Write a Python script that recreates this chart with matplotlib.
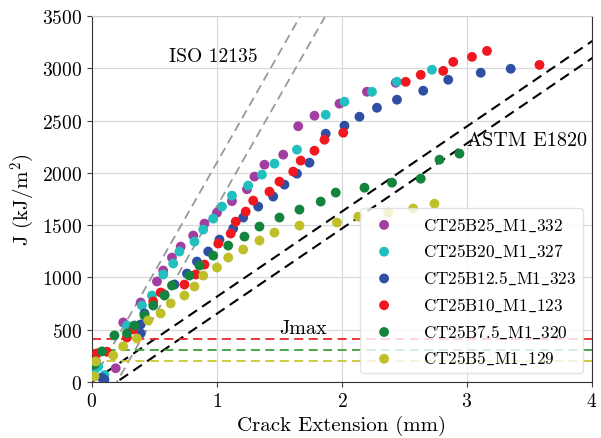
# J-R curves for CT25 specimens with ISO/ASTM construction lines
import numpy as np
import matplotlib
matplotlib.use("Agg")
import matplotlib.pyplot as plt

plt.rcParams["font.family"] = "serif"
plt.rcParams["font.serif"] = ["cmr10"]
plt.rcParams["mathtext.fontset"] = "cm"
plt.rcParams["axes.formatter.use_mathtext"] = True

# ---- DATA (crack extension in mm, J in kJ/m^2) ----
labels = [r"CT25B25$\_$M1$\_$332", r"CT25B20$\_$M1$\_$327", r"CT25B12.5$\_$M1$\_$323",
          r"CT25B10$\_$M1$\_$123", r"CT25B7.5$\_$M1$\_$320", r"CT25B5$\_$M1$\_$129"]
colors = ["#a33ea1", "#22bfbf", "#2f4fa3", "#f0181e", "#13843c", "#bfbf2a"]

da_b25 = [0.01, 0.03, 0.19, 0.25, 0.39, 0.52, 0.57, 0.64, 0.71, 0.81, 0.90, 1.00,
          1.12, 1.24, 1.30, 1.38, 1.53, 1.65, 1.78, 1.98, 2.20, 2.43]
j_b25 = [50, 200, 130, 568, 759, 960, 1065, 1189, 1294, 1400, 1514, 1619,
         1729, 1843, 1964, 2078, 2174, 2446, 2547, 2662, 2776, 2862]

da_b20 = [0.02, 0.05, 0.10, 0.28, 0.40, 0.48, 0.57, 0.65, 0.70, 0.82, 0.89, 0.97,
          1.04, 1.12, 1.25, 1.36, 1.46, 1.64, 1.87, 2.02, 2.24, 2.44, 2.72]
j_b20 = [110, 147, 65, 539, 730, 826, 1027, 1132, 1247, 1342, 1457, 1562,
         1677, 1782, 1878, 1983, 2088, 2222, 2556, 2681, 2776, 2872, 2987]

da_b125 = [0.00, 0.08, 0.10, 0.39, 0.39, 0.42, 0.58, 0.66, 0.76, 0.84, 0.93, 1.02,
           1.13, 1.21, 1.33, 1.45, 1.54, 1.64, 1.74, 1.87, 2.02, 2.14, 2.28, 2.44,
           2.65, 2.85, 3.11, 3.35]
j_b125 = [160, 40, 20, 463, 549, 654, 835, 931, 1036, 1151, 1247, 1361,
          1467, 1572, 1677, 1773, 1887, 1992, 2097, 2375, 2451, 2537, 2623, 2700,
          2786, 2891, 2958, 2996]

da_b10 = [0.04, 0.12, 0.28, 0.33, 0.49, 0.55, 0.74, 0.83, 0.90, 1.01, 1.11, 1.15,
          1.23, 1.29, 1.42, 1.50, 1.61, 1.67, 1.78, 1.86, 2.01, 2.51, 2.63, 2.81,
          2.89, 3.04, 3.16, 3.58]
j_b10 = [272, 288, 424, 501, 769, 855, 931, 1027, 1122, 1323, 1419, 1533,
         1629, 1734, 1820, 1916, 2012, 2117, 2212, 2317, 2384, 2871, 2938, 2976,
         3062, 3110, 3167, 3033]

da_b75 = [0.02, 0.08, 0.18, 0.28, 0.34, 0.42, 0.49, 0.58, 0.64, 0.78, 0.86, 0.97,
          1.09, 1.22, 1.34, 1.50, 1.66, 1.83, 1.95, 2.18, 2.40, 2.63, 2.78, 2.94]
j_b75 = [166, 291, 444, 463, 539, 635, 730, 826, 922, 1017, 1113, 1208,
         1304, 1390, 1486, 1572, 1648, 1725, 1811, 1858, 1906, 1944, 2126, 2184]

da_b5 = [0.02, 0.03, 0.17, 0.25, 0.36, 0.45, 0.55, 0.63, 0.74, 0.82, 0.89, 1.00,
         1.09, 1.21, 1.34, 1.46, 1.66, 1.96, 2.13, 2.37, 2.57, 2.74]
j_b5 = [52, 195, 252, 339, 415, 587, 654, 750, 826, 912, 1017, 1094,
        1189, 1266, 1352, 1428, 1495, 1524, 1581, 1619, 1658, 1705]

series_da = [da_b25, da_b20, da_b125, da_b10, da_b75, da_b5]
series_j = [j_b25, j_b20, j_b125, j_b10, j_b75, j_b5]

# construction lines: J = slope * (da - offset)
iso_slope = 2100
astm_slope = 815
line_offsets = [0.0, 0.2]

# Jmax levels
jmax_levels = [410, 305, 200]
jmax_colors = ["#e8262b", "#3aa040", "#c8c830"]

# ---- PLOT ----
fig, ax = plt.subplots(figsize=(6.01, 4.39), dpi=100)
fig.subplots_adjust(left=0.153, right=0.985, bottom=0.128, top=0.961)

xx = np.array([0, 4.5])
for off in line_offsets:
    ax.plot(xx, iso_slope * (xx - off), ls=(0, (5, 3)), color="#999999", lw=1.3, zorder=2)
    ax.plot(xx, astm_slope * (xx - off), ls=(0, (5, 3)), color="black", lw=1.5, zorder=2)

for lvl, c in zip(jmax_levels, jmax_colors):
    ax.axhline(lvl, ls=(0, (5, 3)), color=c, lw=1.3, zorder=2)

for da, j, lab, c in zip(series_da, series_j, labels, colors):
    ax.scatter(da, j, s=50, color=c, label=lab, zorder=3, edgecolors="none")

ax.text(0.62, 3120, "ISO 12135", fontsize=14, va="center")
ax.text(3.0, 2310, "ASTM E1820", fontsize=14.5, va="center")
ax.text(1.5, 430, "Jmax", fontsize=14.5, va="bottom")

ax.set_xlim(0, 4)
ax.set_ylim(0, 3500)
ax.set_xticks([0, 1, 2, 3, 4])
ax.set_yticks(np.arange(0, 3501, 500))
ax.tick_params(labelsize=14, color="#444444")
ax.grid(True, color="#d9d9d9", lw=0.9)
ax.set_axisbelow(True)
for side in ["left", "bottom", "right"]:
    ax.spines[side].set_color("#333333")
ax.spines["top"].set_color("#cccccc")

ax.set_xlabel("Crack Extension (mm)", fontsize=15)
ax.set_ylabel(r"J (kJ/m$^2$)", fontsize=15)

leg = ax.legend(loc="lower right", fontsize=12.3, scatterpoints=1,
                handletextpad=1.3, labelspacing=0.55, framealpha=0.8)
leg.get_frame().set_edgecolor("#dddddd")

plt.savefig("out.png", dpi=100)
